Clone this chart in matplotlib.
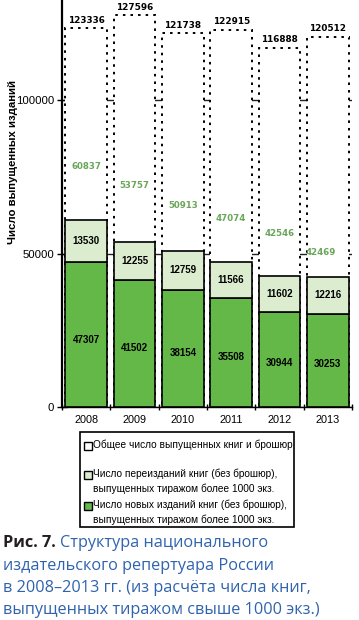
import matplotlib
matplotlib.use("Agg")
import matplotlib.pyplot as plt
from matplotlib.patches import Rectangle
import numpy as np

years = ["2008", "2009", "2010", "2011", "2012", "2013"]
total = [123336, 127596, 121738, 122915, 116888, 120512]
new_ed = [47307, 41502, 38154, 35508, 30944, 30253]
reprint = [13530, 12255, 12759, 11566, 11602, 12216]
books_sum = [60837, 53757, 50913, 47074, 42546, 42469]

# label placement (positions only)
sum_label_y = [78500, 72000, 65500, 61500, 56400, 50200]
sum_label_dx = [0, 0, 0, 0, 0, -0.15]

W, H = 359, 620
fig = plt.figure(figsize=(W / 100, H / 100), dpi=100)
fig.patch.set_facecolor("white")

def fx(px):
    return px / W

def fy(py):
    return 1 - py / H

ax = fig.add_axes([fx(62), fy(407), fx(352) - fx(62), fy(0) - fy(407)])
x = np.arange(len(years))
bw = 0.86
ax.set_xlim(-0.5, 5.5)
ax.set_ylim(0, 100000 * 407 / 307)

dark = "#63b847"
light = "#dcedcf"

ax.bar(x, total, width=bw, color="white", edgecolor="black", linestyle=(0, (1.3, 2.6)),
       linewidth=1.4, zorder=2)
ax.bar(x, new_ed, width=bw, color=dark, edgecolor="black", linewidth=1.2, zorder=3)
ax.bar(x, reprint, bottom=new_ed, width=bw, color=light, edgecolor="black", linewidth=1.2, zorder=3)

ax.set_yticks([0, 50000, 100000])
ax.set_yticklabels(["0", "50000", "100000"], fontfamily="Liberation Sans", fontsize=8.2)
ax.grid(axis="y", color="#222222", linewidth=1.0, zorder=0)
ax.set_axisbelow(True)

ax.set_xticks(x)
ax.set_xticklabels(years, fontfamily="Liberation Sans", fontsize=7.8)
ax.tick_params(axis="x", which="major", length=0, pad=6)
ax.set_xticks(np.arange(-0.5, 6.0, 1.0), minor=True)
ax.tick_params(axis="x", which="minor", length=5, width=1, direction="inout")
ax.tick_params(axis="y", length=7, width=1, direction="inout", pad=2)

for s in ["top", "right"]:
    ax.spines[s].set_visible(False)
ax.spines["left"].set_linewidth(1.6)
ax.spines["bottom"].set_linewidth(1.0)

for i in range(len(years)):
    ax.text(x[i], total[i] + 1200, f"{total[i]}", ha="center", va="bottom",
            fontfamily="DejaVu Sans", fontweight="bold", fontsize=6.4, zorder=5)
    ax.text(x[i] + sum_label_dx[i], sum_label_y[i], f"{books_sum[i]}", ha="center", va="center",
            fontfamily="DejaVu Sans", fontweight="bold", fontsize=6.2, color="#6aa55a", zorder=5)
    ax.text(x[i], new_ed[i] * 0.46, f"{new_ed[i]}", ha="center", va="center",
            fontfamily="Liberation Sans", fontweight="bold", fontsize=7, zorder=5)
    ax.text(x[i], new_ed[i] + reprint[i] * 0.5, f"{reprint[i]}", ha="center", va="center",
            fontfamily="Liberation Sans", fontweight="bold", fontsize=7, zorder=5)

fig.text(fx(13), fy(162), "Число выпущенных изданий", rotation=90, ha="center", va="center",
         fontfamily="Liberation Sans", fontweight="bold", fontsize=8.2)

# legend box
fig.patches.append(Rectangle((fx(80), fy(527)), fx(294) - fx(80), fy(432) - fy(527),
                             transform=fig.transFigure, facecolor="white", edgecolor="black",
                             linewidth=1.2))
leg_labels = ["Общее число выпущенных книг и брошюр",
              "Число переизданий книг (без брошюр),\nвыпущенных тиражом более 1000 экз.",
              "Число новых изданий книг (без брошюр),\nвыпущенных тиражом более 1000 экз."]
leg_colors = ["white", light, dark]
leg_y = [446, 475, 506]
for lab, col, py in zip(leg_labels, leg_colors, leg_y):
    fig.patches.append(Rectangle((fx(84), fy(py + 4)), fx(8), 8 / H, transform=fig.transFigure,
                                 facecolor=col, edgecolor="black", linewidth=1.0))
    fig.text(fx(93), fy(py - 6), lab, ha="left", va="top", fontfamily="Liberation Sans",
             fontsize=7.25, linespacing=1.45)

# caption
cap_font = "Open Sans"
blue = "#2f63ad"
cap_size = 11.7
t = fig.text(fx(3), fy(543), "Рис. 7. ", ha="left", va="center", fontfamily=cap_font,
             fontweight="bold", fontsize=cap_size, color="#231f20")
fig.canvas.draw()
bb = t.get_window_extent()
fig.text(bb.x1 / W, fy(543), "Структура национального", ha="left", va="center",
         fontfamily=cap_font, fontsize=cap_size, color=blue)
for line, py in zip(["издательского репертуара России",
                     "в 2008–2013 гг. (из расчёта числа книг,",
                     "выпущенных тиражом свыше 1000 экз.)"], [566, 588, 610]):
    fig.text(fx(3), fy(py), line, ha="left", va="center", fontfamily=cap_font,
             fontsize=cap_size, color=blue)

fig.savefig("out.png", dpi=100, facecolor="white")
